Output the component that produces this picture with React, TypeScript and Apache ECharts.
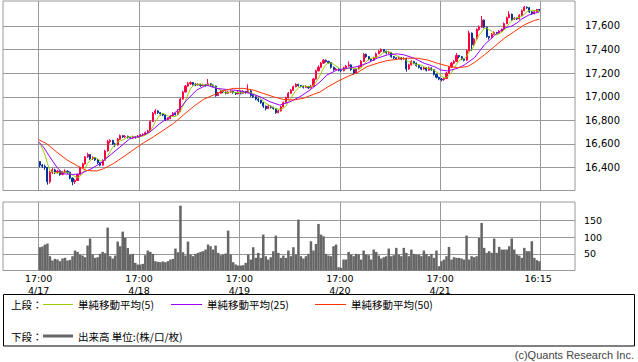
import React, { useEffect, useRef } from 'react';
import * as echarts from 'echarts';

// [open, close, low, high] per 30-minute bar, 4/17 17:00 -> 4/22 16:15
const candles: number[][] = [
  // 4/17 night -> 4/18 day
  [16450,16420,16400,16455],[16420,16410,16395,16430],[16410,16400,16380,16425],[16400,16280,16255,16405],[16280,16360,16265,16370],
  [16360,16380,16345,16395],[16380,16360,16345,16390],[16360,16370,16350,16380],[16370,16340,16330,16375],[16340,16360,16335,16370],
  [16360,16370,16350,16385],[16370,16360,16345,16375],[16360,16310,16300,16365],[16310,16280,16250,16315],[16280,16290,16260,16300],
  [16290,16340,16285,16345],[16340,16400,16335,16405],[16400,16430,16395,16440],[16430,16490,16425,16495],[16490,16510,16480,16525],
  [16510,16475,16465,16515],[16475,16485,16465,16495],[16485,16465,16455,16490],[16465,16440,16430,16470],[16440,16420,16410,16445],
  [16420,16460,16415,16470],[16460,16540,16455,16550],[16540,16620,16535,16635],[16620,16630,16605,16640],[16630,16600,16590,16635],
  [16600,16590,16575,16610],[16590,16640,16585,16650],[16640,16670,16635,16680],[16670,16660,16650,16675],[16660,16665,16650,16675],
  [16665,16655,16645,16670],[16655,16650,16640,16660],[16650,16660,16645,16670],[16660,16655,16645,16665],[16655,16665,16650,16675],
  // 4/18 night -> 4/19 day
  [16665,16675,16660,16685],[16675,16680,16665,16690],[16680,16695,16675,16705],[16695,16710,16690,16720],[16710,16790,16705,16800],
  [16790,16860,16785,16870],[16860,16880,16850,16895],[16880,16865,16855,16885],[16865,16855,16840,16870],[16855,16845,16835,16860],
  [16845,16805,16795,16850],[16805,16815,16800,16825],[16815,16835,16810,16845],[16835,16860,16830,16870],[16860,16850,16840,16865],
  [16850,16875,16845,16895],[16875,16980,16870,16990],[16980,17040,16975,17050],[17040,17090,17035,17100],[17090,17110,17085,17125],
  [17110,17120,17100,17130],[17120,17105,17095,17125],[17105,17100,17090,17115],[17100,17105,17095,17115],[17105,17095,17085,17110],
  [17095,17100,17090,17110],[17100,17095,17085,17105],[17095,17110,17090,17150],[17110,17100,17090,17115],[17100,17090,17080,17105],
  [17090,17010,17000,17095],[17010,17030,17005,17040],[17030,17050,17025,17060],[17050,17040,17030,17055],[17040,17030,17020,17045],
  [17030,17040,17025,17050],[17040,17045,17035,17055],[17045,17035,17025,17050],[17035,17025,17015,17040],[17025,17040,17020,17050],
  // 4/19 night -> 4/20 day
  [17040,17030,17020,17050],[17030,17045,17025,17055],[17045,17035,17025,17050],[17035,17050,17030,17105],[17050,17010,17000,17055],
  [17010,17000,16990,17020],[17000,16980,16970,17005],[16980,16970,16955,16990],[16970,16950,16940,16975],[16950,16920,16905,16955],
  [16920,16900,16885,16925],[16900,16920,16895,16930],[16920,16910,16900,16925],[16910,16900,16890,16915],[16900,16865,16855,16905],
  [16865,16880,16860,16890],[16880,16915,16875,16925],[16915,16950,16910,16960],[16950,16990,16945,17000],[16990,17030,16985,17040],
  [17030,17055,17025,17065],[17055,17085,17050,17095],[17085,17105,17080,17115],[17105,17095,17085,17110],[17095,17090,17080,17100],
  [17090,17080,17070,17095],[17080,17085,17075,17095],[17085,17075,17065,17090],[17075,17090,17070,17100],[17090,17150,17085,17160],
  [17150,17220,17145,17230],[17220,17250,17215,17265],[17250,17285,17245,17295],[17285,17310,17280,17320],[17310,17300,17290,17315],
  [17300,17290,17280,17305],[17290,17250,17240,17295],[17250,17230,17220,17255],[17230,17235,17225,17245],[17235,17225,17215,17240],
  // 4/20 night -> 4/21 day
  [17225,17220,17210,17230],[17220,17245,17215,17255],[17245,17260,17240,17270],[17260,17270,17255,17300],[17270,17230,17220,17275],
  [17230,17200,17186,17235],[17200,17235,17195,17245],[17235,17255,17230,17265],[17255,17300,17250,17310],[17300,17360,17295,17370],
  [17360,17340,17330,17365],[17340,17320,17310,17345],[17320,17310,17300,17325],[17310,17330,17305,17340],[17330,17365,17325,17375],
  [17365,17385,17360,17395],[17385,17400,17375,17410],[17400,17385,17375,17405],[17385,17370,17360,17390],[17370,17375,17365,17385],
  [17375,17340,17330,17380],[17340,17330,17320,17345],[17330,17325,17315,17335],[17325,17330,17320,17340],[17330,17320,17310,17335],
  [17320,17325,17315,17335],[17325,17235,17214,17330],[17235,17270,17230,17280],[17270,17300,17265,17310],[17300,17285,17275,17305],
  [17285,17265,17255,17290],[17265,17250,17240,17270],[17250,17235,17225,17255],[17235,17245,17230,17255],[17245,17225,17215,17250],
  [17225,17245,17220,17255],[17245,17230,17220,17250],[17230,17190,17180,17235],[17190,17165,17155,17195],[17165,17150,17140,17170],
  // 4/21 night -> 4/22 day
  [17150,17145,17130,17160],[17145,17155,17135,17165],[17155,17200,17150,17210],[17200,17250,17195,17260],[17250,17285,17245,17295],
  [17285,17300,17275,17310],[17300,17350,17295,17370],[17350,17340,17325,17355],[17340,17320,17310,17345],[17320,17310,17300,17325],
  [17310,17390,17305,17400],[17390,17540,17385,17560],[17540,17440,17390,17545],[17440,17490,17435,17500],[17490,17570,17485,17580],
  [17570,17590,17560,17605],[17590,17650,17585,17685],[17650,17590,17580,17655],[17590,17510,17500,17595],[17510,17500,17485,17515],
  [17500,17530,17495,17540],[17530,17545,17525,17555],[17545,17540,17530,17550],[17540,17555,17535,17565],[17555,17570,17550,17580],
  [17570,17620,17565,17630],[17620,17670,17615,17680],[17670,17700,17665,17725],[17700,17655,17645,17705],[17655,17665,17650,17675],
  [17665,17660,17650,17670],[17660,17690,17655,17700],[17690,17730,17685,17740],[17730,17760,17725,17770],[17760,17755,17745,17765],
  [17755,17720,17710,17760],[17720,17705,17695,17725],[17705,17720,17700,17730],[17720,17740,17715,17745],[17740,17735,17725,17745],
];

// closes of the four bars before 4/17 17:00 (feed the first 5-bar average)
const priorCloses = [16660, 16660, 16650, 16660];

const volumes = [
  70,72,78,81,43,30,35,33,28,36,38,30,32,43,60,56,48,45,40,75,96,48,38,40,50,56,52,129,43,36,45,87,73,117,98,68,48,50,23,18,
  18,20,46,60,56,50,28,26,25,27,25,28,33,35,66,55,195,55,45,87,48,43,50,53,56,58,63,78,73,63,75,53,46,48,51,120,48,25,18,15,
  15,16,23,48,33,70,38,53,38,108,43,33,40,58,105,53,38,45,38,60,43,70,48,153,43,36,43,50,88,60,80,140,108,103,50,45,43,73,78,10,
  8,33,33,56,48,43,50,48,33,60,48,46,33,63,56,45,36,40,43,66,43,46,68,48,43,68,53,43,63,50,48,48,43,60,50,43,50,38,60,13,
  28,33,43,71,33,40,38,38,36,33,105,33,43,40,43,98,143,68,53,58,53,96,53,71,63,63,63,73,96,63,48,45,38,68,58,58,88,38,31,28,
];

// [bar position, value]
const ma25Points: number[][] = [
  [0,16617],[1.9,16574],[4.5,16489],[7.2,16404],[9.8,16347],[13.8,16341],[16.5,16347],[20.5,16384],[24.4,16432],
  [28.4,16503],[32.4,16574],[36.4,16645],[40.4,16665],[44.4,16702],[48.3,16773],[52.3,16830],[56.3,16901],[59,16972],
  [63,17057],[66.9,17099],[70.9,17071],[74.9,17062],[80.2,17051],[84.2,17028],[88.2,17000],[92.2,16957],[96.1,16929],
  [100.1,16957],[104.1,17000],[108.1,17057],[112.1,17125],[114.9,17185],[118.9,17227],[122.9,17241],[126.9,17256],
  [130.9,17284],[134.9,17327],[138.9,17355],[142.9,17364],[145.6,17355],[149.6,17327],[153.6,17284],[157.6,17256],
  [160.3,17227],[162.9,17219],[166.9,17241],[169.6,17270],[173.6,17330],[177.6,17440],[181.6,17520],[183.4,17550],
  [185.6,17582],[188.5,17600],[190.9,17631],[192.5,17660],[195.3,17693],[199.5,17720],
];
const ma50Points: number[][] = [
  [0,16636],[3.2,16602],[7.2,16531],[11.2,16466],[15.1,16418],[19.1,16375],[23.1,16370],[25.8,16389],[29.7,16432],
  [33.7,16489],[37.7,16550],[41.7,16608],[45.7,16659],[49.7,16716],[53.7,16773],[57.6,16844],[61.6,16915],[65.6,16977],
  [69.6,17014],[73.6,17051],[77.6,17071],[81.5,17071],[85.5,17057],[89.5,17028],[93.5,17000],[97.5,16977],[101.5,16972],
  [105.4,16986],[109.4,17020],[112.1,17040],[114.9,17080],[118.9,17128],[122.9,17170],[126.9,17204],[130.9,17256],
  [134.9,17284],[138.9,17307],[142.9,17318],[146.9,17327],[150.9,17327],[154.9,17312],[158.9,17284],[162.9,17261],
  [166.9,17247],[170.9,17256],[173.6,17290],[177.6,17355],[181.6,17426],[185.6,17497],[189.6,17554],[193.6,17611],
  [197.6,17648],[199.5,17657],
];

const dayTicks = [0, 40, 80, 120, 160, 200];
const xLabelPositions = [0, 40, 80, 120, 160, 199];
const xLabelTexts = ['17:00\n4/17', '17:00\n4/18', '17:00\n4/19', '17:00\n4/20', '17:00\n4/21', '16:15'];
const priceTicks = [16400, 16600, 16800, 17000, 17200, 17400, 17600];
const volumeTicks = [50, 100, 150];

const GRID_COLOR = '#999999';
const UP = '#ff0040';
const DOWN = '#003399';
const MA5_COLOR = '#99cc00';
const MA25_COLOR = '#9900ff';
const MA50_COLOR = '#ff3300';

export default function App() {
  const ref = useRef<HTMLDivElement>(null);
  useEffect(() => {
    if (!ref.current) return;
    const chart = echarts.init(ref.current, undefined, { renderer: 'svg' });

    const allCloses = [...priorCloses, ...candles.map((c) => c[1])];
    const ma5 = candles.map((_, i) => {
      const w = allCloses.slice(i, i + 5);
      return [i + 0.5, w.reduce((a, b) => a + b, 0) / 5];
    });

    const xMin = -14.2;
    const xMax = 213.7;
    const cjk = '"Noto Sans CJK JP", "Noto Sans", sans-serif';

    const text = (x: number, y: number, t: string, extra: any = {}) => ({
      type: 'text',
      x,
      y,
      style: { text: t, fill: '#000', font: `10.5px ${cjk}`, verticalAlign: 'middle', align: 'left', ...extra },
    });
    const line = (x1: number, x2: number, y: number, color: string, w: number) => ({
      type: 'line',
      shape: { x1, y1: y, x2, y2: y },
      style: { stroke: color, lineWidth: w },
    });

    chart.setOption({
      animation: false,
      backgroundColor: '#ffffff',
      grid: [
        { left: 3, top: 1, width: 572, height: 189.5, show: true, borderColor: GRID_COLOR, borderWidth: 1 },
        { left: 3, top: 202, width: 572, height: 68.5, show: true, borderColor: GRID_COLOR, borderWidth: 1 },
      ],
      xAxis: [
        {
          type: 'value', gridIndex: 0, min: xMin, max: xMax,
          axisLine: { show: false },
          axisTick: { show: false, customValues: dayTicks },
          axisLabel: { show: false },
          splitLine: { show: true, lineStyle: { color: GRID_COLOR, width: 1 } },
        },
        {
          type: 'value', gridIndex: 1, min: xMin, max: xMax,
          axisLine: { show: false },
          axisTick: { show: false, customValues: dayTicks },
          axisLabel: {
            show: true,
            customValues: xLabelPositions,
            formatter: (v: number) => {
              const k = xLabelPositions.indexOf(Math.round(v));
              return k >= 0 ? xLabelTexts[k] : '';
            },
            fontSize: 9.5, lineHeight: 12.5, margin: 1.5, color: '#000', fontFamily: 'DejaVu Sans',
          },
          splitLine: { show: true, lineStyle: { color: GRID_COLOR, width: 1 } },
        },
      ],
      yAxis: [
        {
          type: 'value', gridIndex: 0, position: 'right', min: 16205, max: 17812,
          axisLine: { show: false },
          axisTick: { show: true, length: 5, customValues: priceTicks, lineStyle: { color: GRID_COLOR } },
          axisLabel: {
            customValues: priceTicks,
            formatter: (v: number) => v.toLocaleString('en-US'),
            margin: 10, fontSize: 10, color: '#000', fontFamily: 'DejaVu Sans',
          },
          splitLine: { show: true, lineStyle: { color: GRID_COLOR, width: 1 } },
        },
        {
          type: 'value', gridIndex: 1, position: 'right', min: 0, max: 206,
          axisLine: { show: false },
          axisTick: { show: true, length: 5, customValues: volumeTicks, lineStyle: { color: GRID_COLOR } },
          axisLabel: {
            customValues: volumeTicks,
            margin: 9, fontSize: 9.5, color: '#000', fontFamily: 'DejaVu Sans',
          },
          splitLine: { show: true, lineStyle: { color: GRID_COLOR, width: 1 } },
        },
      ],
      series: [
        {
          type: 'candlestick', xAxisIndex: 0, yAxisIndex: 0,
          data: candles.map((c, i) => [i + 0.5, c[0], c[1], c[2], c[3]]),
          barWidth: 1.6,
          itemStyle: { color: UP, color0: DOWN, borderColor: UP, borderColor0: DOWN, borderWidth: 1 },
        },
        {
          type: 'line', xAxisIndex: 0, yAxisIndex: 0, data: ma5, showSymbol: false, symbol: 'none',
          lineStyle: { color: MA5_COLOR, width: 1 },
        },
        {
          type: 'line', xAxisIndex: 0, yAxisIndex: 0, data: ma25Points, showSymbol: false, symbol: 'none',
          lineStyle: { color: MA25_COLOR, width: 1 },
        },
        {
          type: 'line', xAxisIndex: 0, yAxisIndex: 0, data: ma50Points, showSymbol: false, symbol: 'none',
          lineStyle: { color: MA50_COLOR, width: 1 },
        },
        {
          type: 'bar', xAxisIndex: 1, yAxisIndex: 1,
          data: volumes.map((v, i) => [i + 0.5, v]),
          barWidth: 2.51,
          itemStyle: { color: '#666666' },
        },
      ],
      graphic: [
        {
          type: 'rect',
          shape: { x: 3.5, y: 294.5, width: 631, height: 51.5 },
          style: { fill: 'transparent', stroke: '#000', lineWidth: 1 },
        },
        text(11, 304, '上段：'),
        line(43, 73, 304.5, MA5_COLOR, 1),
        text(78, 304, '単純移動平均(5)'),
        line(171, 202, 304.5, MA25_COLOR, 1),
        text(207, 304, '単純移動平均(25)'),
        line(315, 346, 304.5, MA50_COLOR, 1),
        text(351, 304, '単純移動平均(50)'),
        text(11, 336, '下段：'),
        line(43, 73, 336, '#666666', 3),
        text(78, 336, '出来高 単位:(株/口/枚)'),
        {
          type: 'text', x: 634, y: 355,
          style: {
            text: '(c)Quants Research Inc.', fill: '#444', font: '11px "Liberation Sans", sans-serif',
            align: 'right', verticalAlign: 'middle',
          },
        },
      ],
    });
    return () => chart.dispose();
  }, []);

  return <div ref={ref} style={{ position: 'absolute', left: 0, top: 0, width: 638, height: 362 }} />;
}
